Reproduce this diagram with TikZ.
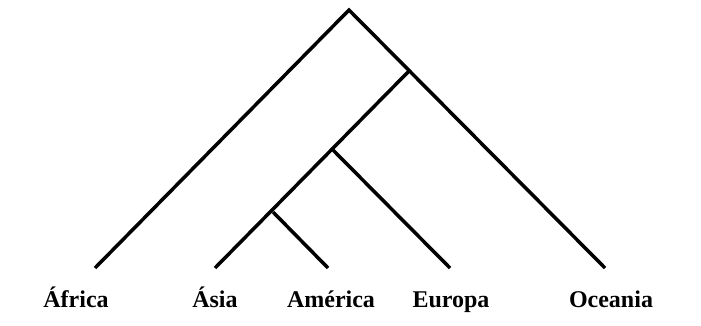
\documentclass[tikz,border=0pt]{standalone}
\usepackage{fontspec}
\setmainfont{Liberation Serif}
\usepackage{tikz}
\usetikzlibrary{positioning}

\begin{document}
\begin{tikzpicture}[
    x=1pt,y=-1pt,
    branch/.style={line width=3.5pt,line cap=butt,line join=miter},
    taxon/.style={font=\bfseries\fontsize{24}{28}\selectfont,inner sep=0pt,anchor=base}
  ]
  \useasboundingbox (0,0) rectangle (701,326);

  % junctions
  \coordinate (root) at (349,10);
  \coordinate (n1) at (409,71);
  \coordinate (n2) at (333,150);
  \coordinate (n3) at (273,212);

  % leaf ends
  \coordinate (lafr) at (95,268);
  \coordinate (lasi) at (215,268);
  \coordinate (lame) at (328,268);
  \coordinate (leur) at (450,268);
  \coordinate (loce) at (605,268);

  % labels
  \node[taxon] (africa) at (76,307) {África};
  \node[taxon] (asia) at (215,307) {Ásia};
  \node[taxon] (america) at (331,307) {América};
  \node[taxon] (europa) at (451,307) {Europa};
  \node[taxon] (oceania) at (611,307) {Oceania};

  % branches
  \draw[branch] (lafr) -- (root) -- (loce);
  \draw[branch] (n1) -- (lasi);
  \draw[branch] (n2) -- (leur);
  \draw[branch] (n3) -- (lame);

\end{tikzpicture}
\end{document}
